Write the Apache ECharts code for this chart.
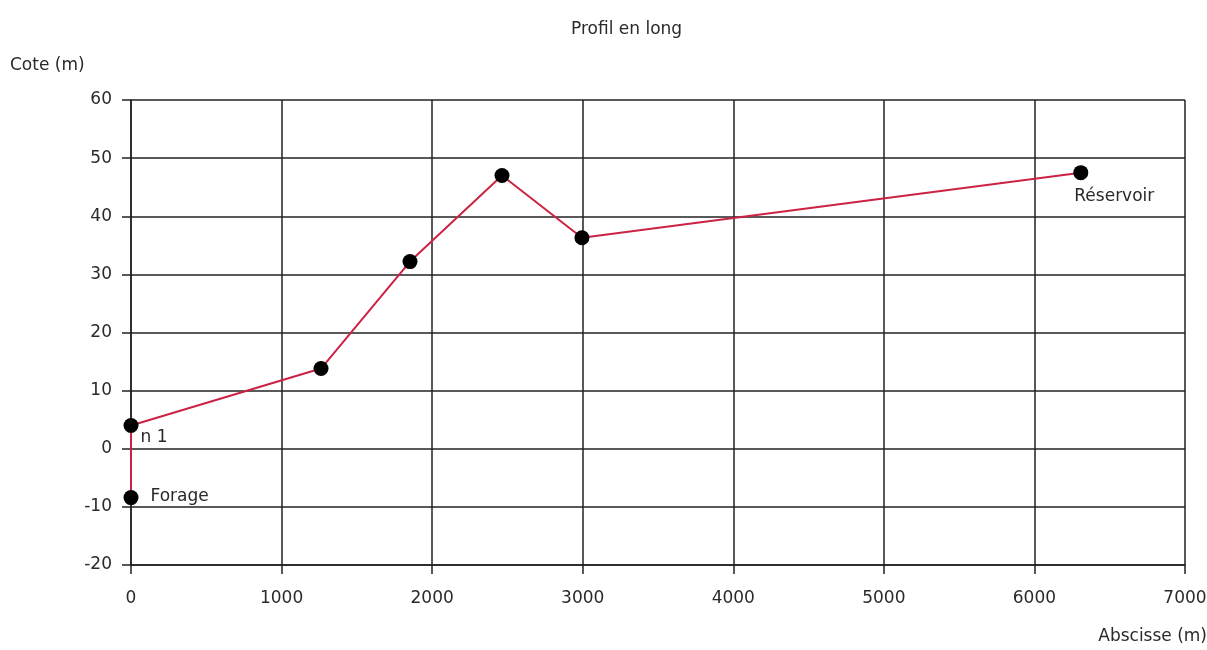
<!DOCTYPE html>
<html><head><meta charset="utf-8">
<script src="https://cdn.jsdelivr.net/npm/echarts@6/dist/echarts.min.js"></script>
<style>html,body{margin:0;padding:0;background:#fff}#c{width:1207px;height:650px}</style>
</head><body><div id="c"></div>
<script>
const abscisses = [0, 0, 1262, 1853, 2464, 2995, 6308];
const cotes = [-8.4, 4.0, 13.8, 32.2, 47.0, 36.3, 47.5];
const pointLabels = ["Forage", "n 1", "", "", "", "", "Réservoir"];
// label anchor offsets relative to the symbol box
const labelOffsets = [[27, 7], [17, 20], null, null, null, null, [1, 31]];

const data = abscisses.map((x, i) => {
  const d = { value: [x, cotes[i]] };
  if (pointLabels[i]) {
    d.label = { show: true, formatter: pointLabels[i], position: labelOffsets[i], align: 'left', verticalAlign: 'middle' };
  }
  return d;
});

const chart = echarts.init(document.getElementById('c'));
const txt = { color: '#2a2a2a', fontFamily: 'DejaVu Sans, sans-serif', fontSize: 17 };
chart.setOption({
  animation: false,
  title: { text: 'Profil en long', left: 566, top: 16, textStyle: Object.assign({}, txt, { fontWeight: 'normal' }) },
  grid: { left: 131, right: 22, top: 100, bottom: 85, outerBoundsMode: 'none', containLabel: false },
  xAxis: {
    type: 'value', min: 0, max: 7000, interval: 1000,
    name: 'Abscisse (m)', nameLocation: 'end',
    nameGap: 22,
    nameTextStyle: Object.assign({}, txt, { align: 'right', verticalAlign: 'top', padding: [63, 0, 0, 0] }),
    axisLine: { show: true, onZero: false, lineStyle: { color: '#222', width: 1.5 } },
    axisTick: { show: true, length: 9, lineStyle: { color: '#222', width: 1.5 } },
    axisLabel: Object.assign({}, txt, { margin: 25, formatter: v => String(v) }),
    splitLine: { show: true, lineStyle: { color: '#222', width: 1.5 } }
  },
  yAxis: {
    type: 'value', min: -20, max: 60, interval: 10,
    name: 'Cote (m)', nameLocation: 'end', nameGap: 26,
    nameTextStyle: Object.assign({}, txt, { align: 'left', padding: [0, 0, 0, -121] }),
    axisLine: { show: true, onZero: false, lineStyle: { color: '#222', width: 1.5 } },
    axisTick: { show: true, length: 9, lineStyle: { color: '#222', width: 1.5 } },
    axisLabel: Object.assign({}, txt, { margin: 19, formatter: v => String(v) }),
    splitLine: { show: true, lineStyle: { color: '#222', width: 1.5 } }
  },
  series: [{
    type: 'line', data: data,
    lineStyle: { color: '#cc2244', width: 2 },
    symbol: 'circle', symbolSize: 15,
    itemStyle: { color: '#000' },
    label: txt,
    z: 5
  }]
});
</script></body></html>
